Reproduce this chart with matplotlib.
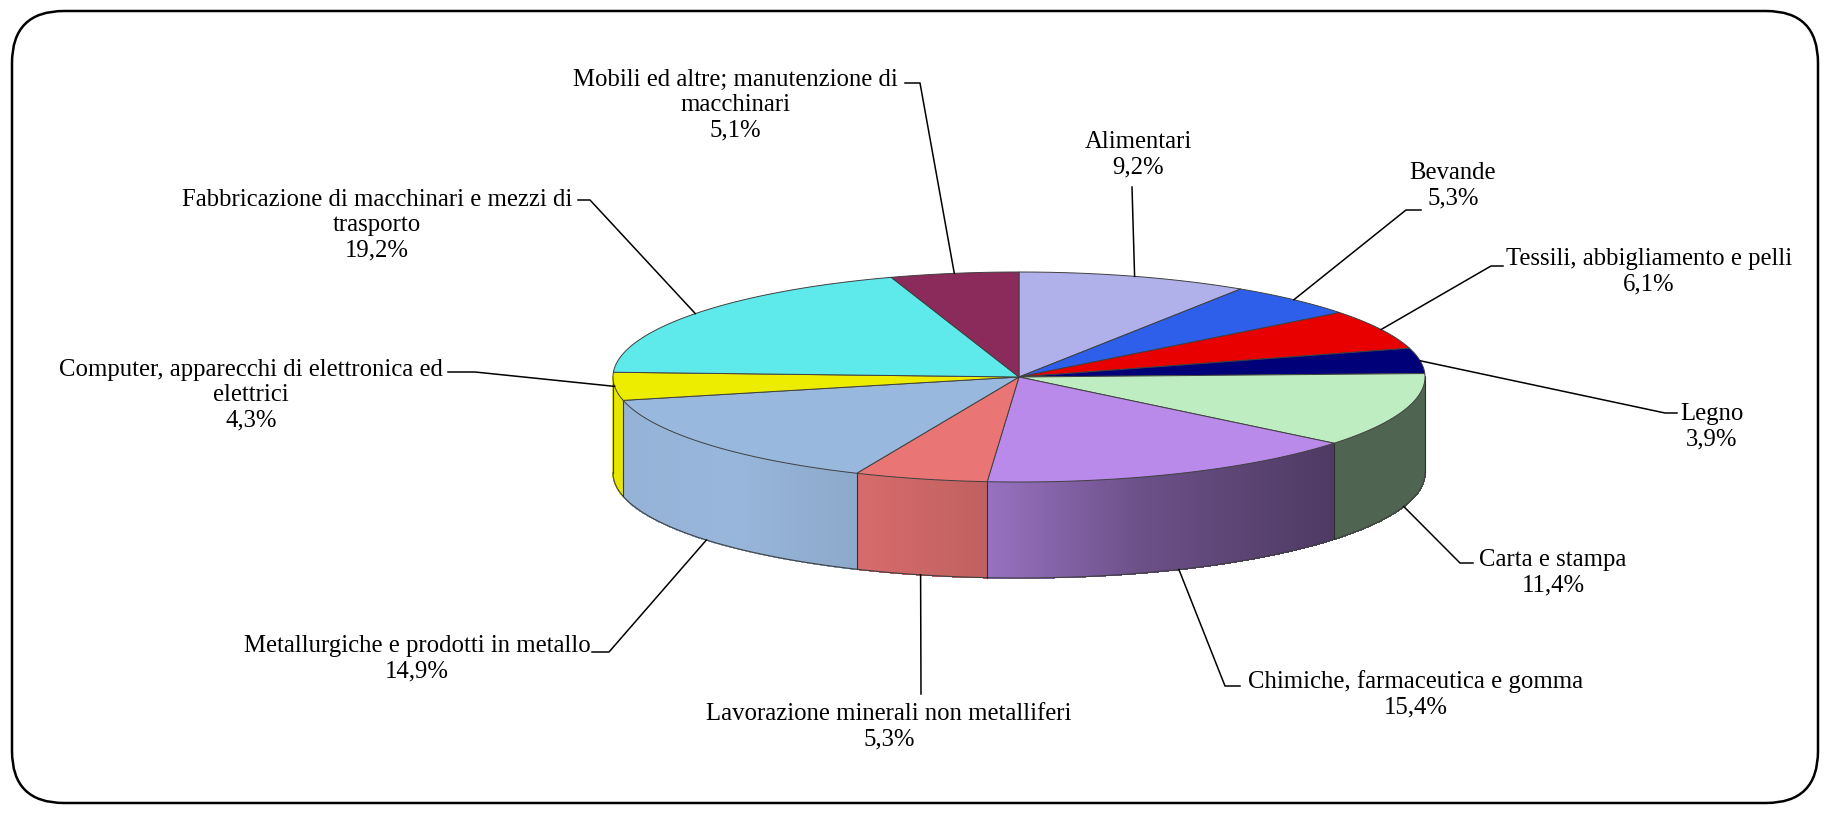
import numpy as np
import matplotlib.pyplot as plt
from matplotlib.patches import Polygon, FancyBboxPatch
from matplotlib.collections import PolyCollection
from matplotlib.colors import to_rgb

sectors = ["Alimentari", "Bevande", "Tessili, abbigliamento e pelli", "Legno",
           "Carta e stampa", "Chimiche, farmaceutica e gomma",
           "Lavorazione minerali non metalliferi",
           "Metallurgiche e prodotti in metallo",
           "Computer, apparecchi di elettronica ed\nelettrici",
           "Fabbricazione di macchinari e mezzi di\ntrasporto",
           "Mobili ed altre; manutenzione di\nmacchinari"]
shares = [9.2, 5.3, 6.1, 3.9, 11.4, 15.4, 5.3, 14.9, 4.3, 19.2, 5.1]
colors = ["#B0B0EA", "#2D5FEA", "#E80000", "#000078", "#BDEDC0", "#B98AEA",
          "#EA7575", "#99B8DD", "#EDED00", "#5EEAEA", "#8B2B5B"]

# label block centres, leader elbows and short ticks next to the text (pixels)
label_xy = [(1138, 155), (1453, 186), (1649, 272), (1712, 427), (1553, 573),
            (1416, 694), (889, 727), (417, 659), (251, 395), (377, 225), (735, 105)]
elbow_xy = [(1132, 187), (1406, 210), (1491, 266), (1665, 413), (1460, 563),
            (1225, 686), (921, 694), (609, 652), (475, 372), (590, 200), (920, 83)]
tick_dx = [0, 15, 12, 12, 13, 15, 0, -17, -27, -12, -15]

W, H = 1830, 813
cx, cy, rx, ry, depth = 1019, 377, 406, 105, 96

fig = plt.figure(figsize=(W / 100, H / 100), dpi=100)
ax = fig.add_axes([0, 0, 1, 1])
ax.set_xlim(0, W)
ax.set_ylim(H, 0)
ax.axis('off')

frame = FancyBboxPatch((12, 11), 1806, 792, boxstyle="round,pad=0,rounding_size=52",
                       fc='white', ec='black', lw=1.8)
ax.add_patch(frame)


def pt(deg, drop=0.0):
    a = np.radians(deg)
    return cx + rx * np.cos(a), cy - ry * np.sin(a) + drop


def shade(t):
    return np.interp(t, [-1, -0.7, -0.4, -0.08, 0.3, 0.775, 1],
                     [0.97, 0.99, 0.92, 0.82, 0.58, 0.42, 0.42])


vals = np.array(shares) / sum(shares)
cum = np.concatenate([[0], np.cumsum(vals)])
starts = 90 - 360 * cum[:-1]
ends = 90 - 360 * cum[1:]

# side wall of the front half, drawn as thin strips for the shading
polys, fcs = [], []
for a0, a1, c in zip(starts, ends, colors):
    hi, lo = min(a0, 0), max(a1, -180)
    if hi <= lo:
        continue
    angs = np.linspace(hi, lo, max(int((hi - lo) * 2), 2) + 1)
    base = np.array(to_rgb(c))
    for p, q in zip(angs[:-1], angs[1:]):
        x0, y0 = pt(p)
        x1, y1 = pt(q)
        polys.append([(x0, y0), (x1, y1), (x1, y1 + depth), (x0, y0 + depth)])
        m = np.radians((p + q) / 2)
        fcs.append(np.clip(base * shade(np.cos(m)), 0, 1))
ax.add_collection(PolyCollection(polys, facecolors=fcs, edgecolors=fcs,
                                 linewidths=0.6, antialiaseds=False, zorder=2))

# outlines of the wall
arc = np.linspace(-180, 0, 400)
bx, by = pt(arc, depth)
ax.plot(bx, by, color='#404040', lw=0.8, zorder=3)
for a in list(starts) + [-180, 0]:
    if -180 <= a <= 0:
        x0, y0 = pt(a)
        ax.plot([x0, x0], [y0, y0 + depth], color='#303030', lw=0.8, zorder=3)

# top face
for a0, a1, c in zip(starts, ends, colors):
    angs = np.linspace(a0, a1, 200)
    xs, ys = pt(angs)
    verts = np.column_stack([np.r_[cx, xs], np.r_[cy, ys]])
    ax.add_patch(Polygon(verts, closed=True, fc=c, ec='#404040', lw=0.7, zorder=4))

# labels with leader lines
for name, v, a0, a1, (lx, ly), (ex, ey), dx in zip(sectors, shares, starts, ends,
                                                    label_xy, elbow_xy, tick_dx):
    mid = (a0 + a1) / 2
    drop = depth if np.sin(np.radians(mid)) < -0.2 else 0
    axp, ayp = pt(mid, drop)
    ax.plot([axp, ex, ex + dx], [ayp, ey, ey], color='black', lw=1.1, zorder=5)
    txt = name + "\n" + f"{v:.1f}%".replace('.', ',')
    ax.text(lx, ly, txt, ha='center', va='center', multialignment='center',
            fontsize=17.8, family='Liberation Serif', linespacing=1.2, zorder=6)

fig.savefig('out.png', dpi=100)
